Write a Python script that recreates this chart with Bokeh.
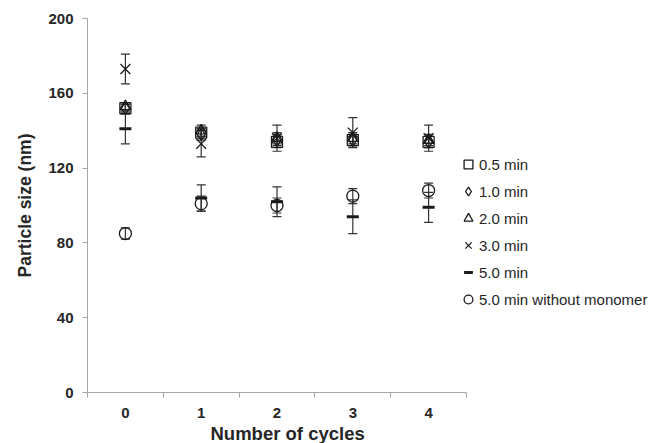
from bokeh.plotting import figure
from bokeh.models import (FixedTicker, Legend, LegendItem, ColumnDataSource, Whisker, TeeHead, Range1d, Title)
from bokeh.embed import file_html
from bokeh.resources import INLINE

cycles = [0, 1, 2, 3, 4]
cycle_labels = ["0", "1", "2", "3", "4"]
series_names = ["0.5 min", "1.0 min", "2.0 min", "3.0 min", "5.0 min", "5.0 min without monomer"]
vals_05 = [152, 139, 134, 135, 134]
err_05 = [2, 2, 3, 3, 3]
vals_10 = [152, 138, 135, 135, 134]
err_10 = [2, 3, 3, 3, 3]
vals_20 = [153, 140, 136, 136, 135]
err_20 = [2, 3, 3, 3, 3]
vals_30 = [173, 133, 136, 139, 136]
err_30 = [8, 7, 7, 8, 7]
vals_50 = [141, 104, 102, 94, 99]
err_50 = [8, 7, 8, 9, 8]
vals_nm = [85, 101, 100, 105, 108]
err_nm = [3, 4, 4, 4, 4]

all_vals = [vals_05, vals_10, vals_20, vals_30, vals_50, vals_nm]
all_errs = [err_05, err_10, err_20, err_30, err_50, err_nm]
markers = ["square", "diamond", "triangle", "x", "dash", "circle"]
sizes = [11, 12, 11, 14, 12, 12]

FONT = "Liberation Sans"
TXT = "#262626"
AX = "#a6a6a6"

# plot frame spans to the right edge so the legend can sit inside it;
# the x axis itself is bounded to the category span
W, H = 656, 443
LEFT, TOP, BOTTOM = 87, 18, 49
AXIS_PX = 379.0  # pixel length of the category span (-0.5 .. 4.5)
frame_w = W - LEFT
x_end = -0.5 + 5.0 * frame_w / AXIS_PX

p = figure(width=W, height=H, output_backend="svg", toolbar_location=None,
           x_range=Range1d(-0.5, x_end), y_range=Range1d(0, 200),
           min_border_left=LEFT, min_border_right=0, min_border_top=TOP, min_border_bottom=BOTTOM)
p.outline_line_color = None
p.grid.visible = False

p.yaxis.ticker = FixedTicker(ticks=[0, 40, 80, 120, 160, 200], minor_ticks=[])
p.xaxis.ticker = FixedTicker(ticks=cycles, minor_ticks=[-0.5, 0.5, 1.5, 2.5, 3.5, 4.5])
p.xaxis.bounds = (-0.5, 4.5)
p.xaxis.major_label_overrides = {c: l for c, l in zip(cycles, cycle_labels)}
p.xaxis.major_tick_out = 0
p.xaxis.major_tick_in = 0
p.xaxis.minor_tick_out = 5
p.xaxis.minor_tick_in = 0
p.yaxis.major_tick_out = 5
p.yaxis.major_tick_in = 0
p.yaxis.minor_tick_out = 0
p.yaxis.minor_tick_in = 0
for ax in (p.xaxis, p.yaxis):
    ax.axis_line_color = AX
    ax.major_tick_line_color = AX
    ax.minor_tick_line_color = AX
    ax.major_label_text_font = FONT
    ax.major_label_text_font_style = "bold"
    ax.major_label_text_font_size = "15px"
    ax.major_label_text_color = TXT
    ax.axis_label_text_font = FONT
    ax.axis_label_text_font_style = "bold"
    ax.axis_label_text_font_size = "17.5px"
    ax.axis_label_text_color = TXT
p.yaxis.axis_label = "Particle size (nm)"
p.xaxis.major_label_standoff = 10
p.yaxis.major_label_standoff = 9
p.yaxis.axis_label_standoff = 10

# x-axis title centred under the category span
xtitle = Title(text="Number of cycles", align="left", offset=123, standoff=0,
               text_font=FONT, text_font_style="bold", text_font_size="18.5px",
               text_color=TXT)
p.add_layout(xtitle, "below")

items = []
for name, vals, errs, mk, sz in zip(series_names, all_vals, all_errs, markers, sizes):
    src = ColumnDataSource(dict(x=cycles, y=vals,
                                lo=[v - e for v, e in zip(vals, errs)],
                                hi=[v + e for v, e in zip(vals, errs)]))
    w = Whisker(source=src, base="x", lower="lo", upper="hi", line_color="#333333", line_width=1.2,
                upper_head=TeeHead(size=9, line_color="#333333", line_width=1.2),
                lower_head=TeeHead(size=9, line_color="#333333", line_width=1.2))
    p.add_layout(w)
    lw = 3 if mk == "dash" else 1.3
    r = p.scatter("x", "y", source=src, marker=mk, size=sz, line_color="#1a1a1a",
                  fill_color="white", fill_alpha=0, line_width=lw)
    items.append(LegendItem(label=name, renderers=[r]))

legend = Legend(items=items, location=(370, 82), orientation="vertical")
legend.background_fill_alpha = 0
legend.border_line_color = None
legend.margin = 0
legend.padding = 0
legend.spacing = 5
legend.glyph_width = 22
legend.glyph_height = 22
legend.label_height = 22
legend.label_standoff = 0
legend.label_text_font = FONT
legend.label_text_font_size = "15px"
legend.label_text_color = TXT
p.add_layout(legend)

open("out.html", "w").write(file_html(p, INLINE))
